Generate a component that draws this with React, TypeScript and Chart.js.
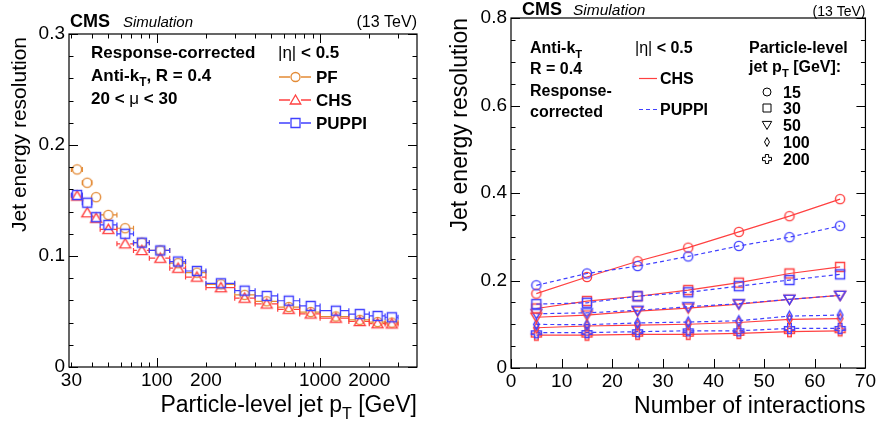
import React, { useEffect, useRef } from 'react';
import { Chart, registerables } from 'chart.js';
Chart.register(...registerables);

const FONT = '"Liberation Sans", Arial, Helvetica, sans-serif';

// ---------------- Left panel data (resolution vs particle-level pT) ----------------
const ptCenters = [32.5, 37.5, 42.5, 50.5, 64, 81, 105, 135, 176, 247, 345, 471, 643, 876, 1250, 1750, 2250, 2750];
const ptLow = [30, 35, 40, 45, 57, 72, 90, 120, 150, 200, 300, 400, 550, 750, 1000, 1500, 2000, 2500];
const ptHigh = [35, 40, 45, 57, 72, 90, 120, 150, 200, 300, 400, 550, 750, 1000, 1500, 2000, 2500, 3000];
const resPF = [0.178, 0.166, 0.153, 0.137, 0.125, 0.112, 0.105, 0.0935, 0.085, 0.0745, 0.065, 0.0592, 0.054, 0.0495, 0.0455, 0.0425, 0.0405, 0.04];
const resCHS = [0.154, 0.139, 0.134, 0.124, 0.111, 0.105, 0.098, 0.089, 0.081, 0.0715, 0.062, 0.0568, 0.052, 0.0478, 0.044, 0.041, 0.039, 0.0388];
const resPUPPI = [0.155, 0.148, 0.135, 0.128, 0.12, 0.112, 0.105, 0.095, 0.0865, 0.0754, 0.0688, 0.064, 0.0597, 0.055, 0.0507, 0.0477, 0.046, 0.0448];
const ptTickLabels = [30, 100, 200, 1000, 2000];
const ptMajorTicks = [100, 1000];
const ptMinorTicks = [30, 40, 50, 60, 70, 80, 90, 200, 300, 400, 500, 600, 700, 800, 900, 2000, 3000];
const resTicksLeft = [0, 0.1, 0.2, 0.3];
const resMinorLeft = [0.02, 0.04, 0.06, 0.08, 0.12, 0.14, 0.16, 0.18, 0.22, 0.24, 0.26, 0.28];

// ---------------- Right panel data (resolution vs number of interactions) ----------------
const nInteractions = [5, 15, 25, 35, 45, 55, 65];
const chsPt15 = [0.170, 0.208, 0.244, 0.275, 0.311, 0.347, 0.386];
const puppiPt15 = [0.189, 0.216, 0.233, 0.255, 0.279, 0.299, 0.325];
const chsPt30 = [0.136, 0.153, 0.164, 0.178, 0.195, 0.216, 0.231];
const puppiPt30 = [0.146, 0.149, 0.164, 0.173, 0.187, 0.201, 0.214];
const chsPt50 = [0.116, 0.121, 0.130, 0.137, 0.146, 0.157, 0.166];
const puppiPt50 = [0.124, 0.126, 0.132, 0.140, 0.147, 0.157, 0.166];
const chsPt100 = [0.092, 0.096, 0.098, 0.100, 0.104, 0.111, 0.113];
const puppiPt100 = [0.0996, 0.099, 0.103, 0.105, 0.108, 0.1186, 0.121];
const chsPt200 = [0.075, 0.075, 0.077, 0.077, 0.079, 0.083, 0.085];
const puppiPt200 = [0.0806, 0.081, 0.083, 0.085, 0.085, 0.0905, 0.0905];
const ptLabels = ['15', '30', '50', '100', '200'];
const nTicks = [0, 10, 20, 30, 40, 50, 60, 70];
const nMinor = [5, 15, 25, 35, 45, 55, 65];
const resTicksRight = [0, 0.2, 0.4, 0.6, 0.8];
const resMinorRight = [0.05, 0.1, 0.15, 0.25, 0.3, 0.35, 0.45, 0.5, 0.55, 0.65, 0.7, 0.75];

const C_PF = '#e38a35';
const C_CHS = '#ff4040';
const C_PUPPI = '#4040ff';

type Shape = 'circle' | 'square' | 'triup' | 'tridown' | 'diamond' | 'cross';

function pathMarker(ctx: CanvasRenderingContext2D, shape: Shape, x: number, y: number, s: number) {
  ctx.beginPath();
  switch (shape) {
    case 'circle':
      ctx.arc(x, y, s, 0, Math.PI * 2);
      break;
    case 'square':
      ctx.rect(x - s, y - s, 2 * s, 2 * s);
      break;
    case 'triup':
      ctx.moveTo(x, y - s);
      ctx.lineTo(x + s * 1.05, y + s * 0.8);
      ctx.lineTo(x - s * 1.05, y + s * 0.8);
      ctx.closePath();
      break;
    case 'tridown':
      ctx.moveTo(x, y + s);
      ctx.lineTo(x + s * 1.05, y - s * 0.8);
      ctx.lineTo(x - s * 1.05, y - s * 0.8);
      ctx.closePath();
      break;
    case 'diamond':
      ctx.moveTo(x, y - s);
      ctx.lineTo(x + s * 0.55, y);
      ctx.lineTo(x, y + s);
      ctx.lineTo(x - s * 0.55, y);
      ctx.closePath();
      break;
    case 'cross': {
      const a = s, b = s * 0.36;
      const pts = [[-b, -a], [b, -a], [b, -b], [a, -b], [a, b], [b, b], [b, a], [-b, a], [-b, b], [-a, b], [-a, -b], [-b, -b]];
      pts.forEach((p, i) => (i === 0 ? ctx.moveTo(x + p[0], y + p[1]) : ctx.lineTo(x + p[0], y + p[1])));
      ctx.closePath();
      break;
    }
  }
}

function makeMarker(shape: Shape, color: string, s: number, lw = 1.4): HTMLCanvasElement {
  const size = Math.ceil(2 * s + lw + 3);
  const c = document.createElement('canvas');
  c.width = size;
  c.height = size;
  const ctx = c.getContext('2d')!;
  ctx.strokeStyle = color;
  ctx.lineWidth = lw;
  pathMarker(ctx, shape, size / 2, size / 2, s);
  ctx.stroke();
  return c;
}

type Seg = { t: string; sub?: boolean; bold?: boolean; italic?: boolean };
function fontStr(size: number, bold?: boolean, italic?: boolean) {
  return `${italic ? 'italic ' : ''}${bold ? 'bold ' : ''}${size}px ${FONT}`;
}
function drawRich(ctx: CanvasRenderingContext2D, segs: Seg[], x: number, y: number, size: number, defBold: boolean, align: 'left' | 'right' = 'left') {
  ctx.textAlign = 'left';
  ctx.textBaseline = 'alphabetic';
  const widths = segs.map((sg) => {
    ctx.font = fontStr(sg.sub ? size * 0.7 : size, sg.bold ?? defBold, sg.italic);
    return ctx.measureText(sg.t).width;
  });
  const total = widths.reduce((a, b) => a + b, 0);
  let cx = align === 'right' ? x - total : x;
  segs.forEach((sg, i) => {
    ctx.font = fontStr(sg.sub ? size * 0.7 : size, sg.bold ?? defBold, sg.italic);
    ctx.fillText(sg.t, cx, y + (sg.sub ? size * 0.3 : 0));
    cx += widths[i];
  });
}

function drawFrameAndTicks(chart: any, xMajor: number[], xMinor: number[], yMajor: number[], yMinor: number[], topTicks: boolean) {
  const { ctx, chartArea: a, scales } = chart;
  const x = scales.x, y = scales.y;
  ctx.save();
  ctx.strokeStyle = '#000';
  ctx.lineWidth = 1.2;
  ctx.strokeRect(a.left, a.top, a.right - a.left, a.bottom - a.top);
  ctx.lineWidth = 1;
  ctx.beginPath();
  const xt = (vals: number[], len: number) => {
    vals.forEach((v) => {
      const px = Math.round(x.getPixelForValue(v)) + 0.5;
      ctx.moveTo(px, a.bottom);
      ctx.lineTo(px, a.bottom - len);
      if (topTicks) {
        ctx.moveTo(px, a.top);
        ctx.lineTo(px, a.top + len);
      }
    });
  };
  const yt = (vals: number[], len: number) => {
    vals.forEach((v) => {
      const py = Math.round(y.getPixelForValue(v)) + 0.5;
      ctx.moveTo(a.left, py);
      ctx.lineTo(a.left + len, py);
      ctx.moveTo(a.right, py);
      ctx.lineTo(a.right - len, py);
    });
  };
  xt(xMajor, 9);
  xt(xMinor, 4.5);
  yt(yMajor, 9);
  yt(yMinor, 4.5);
  ctx.stroke();
  ctx.restore();
}

const leftPlugin = {
  id: 'leftDeco',
  beforeDatasetsDraw(chart: any) {
    const { ctx, scales } = chart;
    const x = scales.x, y = scales.y;
    const series: [number[], string, number][] = [
      [resPF, C_PF, 4.5],
      [resCHS, C_CHS, 5],
      [resPUPPI, C_PUPPI, 4.5],
    ];
    ctx.save();
    ctx.lineWidth = 1.2;
    series.forEach(([vals, col, half]) => {
      ctx.strokeStyle = col;
      ctx.beginPath();
      vals.forEach((v, i) => {
        const py = y.getPixelForValue(v);
        const xl = x.getPixelForValue(ptLow[i]);
        const xh = x.getPixelForValue(ptHigh[i]);
        const xc = x.getPixelForValue(ptCenters[i]);
        if (xc - half > xl) {
          ctx.moveTo(xl, py);
          ctx.lineTo(xc - half, py);
          ctx.moveTo(xl, py - 2.5);
          ctx.lineTo(xl, py + 2.5);
        }
        if (xc + half < xh) {
          ctx.moveTo(xc + half, py);
          ctx.lineTo(xh, py);
          ctx.moveTo(xh, py - 2.5);
          ctx.lineTo(xh, py + 2.5);
        }
      });
      ctx.stroke();
    });
    ctx.restore();
  },
  afterDraw(chart: any) {
    drawFrameAndTicks(chart, ptMajorTicks, ptMinorTicks, resTicksLeft, resMinorLeft, true);
    const { ctx, chartArea: a } = chart;
    ctx.save();
    ctx.fillStyle = '#000';
    // header
    drawRich(ctx, [{ t: 'CMS', bold: true }], 70, 27, 18, true);
    drawRich(ctx, [{ t: 'Simulation', italic: true }], 123, 27, 15, false);
    drawRich(ctx, [{ t: '(13 TeV)' }], a.right, 27, 16, false, 'right');
    // texts
    drawRich(ctx, [{ t: 'Response-corrected' }], 91, 58, 17, true);
    drawRich(ctx, [{ t: 'Anti-k' }, { t: 'T', sub: true }, { t: ', R = 0.4' }], 91, 81, 17, true);
    drawRich(ctx, [{ t: '20 < ' }, { t: 'μ', bold: false }, { t: ' < 30' }], 91, 104, 17, true);
    drawRich(ctx, [{ t: '|η|', bold: false }, { t: ' < 0.5' }], 278, 58, 17, true);
    // legend
    const leg: [string, string, Shape, number][] = [
      ['PF', C_PF, 'circle', 77],
      ['CHS', C_CHS, 'triup', 100],
      ['PUPPI', C_PUPPI, 'square', 123],
    ];
    leg.forEach(([label, col, shape, yy]) => {
      ctx.strokeStyle = col;
      ctx.lineWidth = 1.3;
      ctx.beginPath();
      ctx.moveTo(279, yy);
      ctx.lineTo(290, yy);
      ctx.moveTo(301, yy);
      ctx.lineTo(311, yy);
      ctx.stroke();
      pathMarker(ctx, shape, 295.5, yy, shape === 'triup' ? 5 : 4.5);
      ctx.stroke();
      ctx.fillStyle = '#000';
      drawRich(ctx, [{ t: label }], 316, yy + 6, 17, true);
    });
    // axis titles
    drawRich(ctx, [{ t: 'Particle-level jet p' }, { t: 'T', sub: true }, { t: ' [GeV]' }], a.right, 412, 23, false, 'right');
    ctx.save();
    ctx.translate(26, a.top + 3);
    ctx.rotate(-Math.PI / 2);
    drawRich(ctx, [{ t: 'Jet energy resolution' }], 0, 0, 21, false, 'right');
    ctx.restore();
    ctx.restore();
  },
};

const rightPlugin = {
  id: 'rightDeco',
  afterDraw(chart: any) {
    drawFrameAndTicks(chart, nTicks, nMinor, resTicksRight, resMinorRight, false);
    const { ctx, chartArea: a } = chart;
    ctx.save();
    ctx.fillStyle = '#000';
    drawRich(ctx, [{ t: 'CMS', bold: true }], 82, 15, 18, true);
    drawRich(ctx, [{ t: 'Simulation', italic: true }], 133, 15, 15.5, false);
    drawRich(ctx, [{ t: '(13 TeV)' }], a.right, 16, 14, false, 'right');

    drawRich(ctx, [{ t: 'Anti-k' }, { t: 'T', sub: true }], 90, 53, 16, true);
    drawRich(ctx, [{ t: 'R = 0.4' }], 90, 74, 16, true);
    drawRich(ctx, [{ t: 'Response-' }], 90, 96, 16, true);
    drawRich(ctx, [{ t: 'corrected' }], 90, 117, 16, true);
    drawRich(ctx, [{ t: '|η|', bold: false }, { t: ' < 0.5' }], 195, 53, 16, true);

    ctx.lineWidth = 1.2;
    ctx.strokeStyle = C_CHS;
    ctx.beginPath();
    ctx.moveTo(199, 78.5);
    ctx.lineTo(217, 78.5);
    ctx.stroke();
    ctx.strokeStyle = C_PUPPI;
    ctx.setLineDash([4, 3]);
    ctx.beginPath();
    ctx.moveTo(199, 109.5);
    ctx.lineTo(217, 109.5);
    ctx.stroke();
    ctx.setLineDash([]);
    drawRich(ctx, [{ t: 'CHS' }], 220, 84, 16, true);
    drawRich(ctx, [{ t: 'PUPPI' }], 220, 115, 16, true);

    drawRich(ctx, [{ t: 'Particle-level' }], 309, 53, 16, true);
    drawRich(ctx, [{ t: 'jet p' }, { t: 'T', sub: true }, { t: ' [GeV]:' }], 309, 72, 16, true);
    const shapes: Shape[] = ['circle', 'square', 'tridown', 'diamond', 'cross'];
    const ys = [92, 108, 125, 142, 159];
    shapes.forEach((sh, i) => {
      ctx.strokeStyle = '#000';
      ctx.lineWidth = 1;
      pathMarker(ctx, sh, 327, ys[i], sh === 'circle' ? 4 : sh === 'square' ? 4 : 4.5);
      ctx.stroke();
      drawRich(ctx, [{ t: ptLabels[i] }], 343, ys[i] + 6, 16, true);
    });

    drawRich(ctx, [{ t: 'Number of interactions' }], a.right, 413, 23, false, 'right');
    ctx.save();
    ctx.translate(27, a.top);
    ctx.rotate(-Math.PI / 2);
    drawRich(ctx, [{ t: 'Jet energy resolution' }], 0, 0, 23, false, 'right');
    ctx.restore();
    ctx.restore();
  },
};

const tickFont = { family: FONT, size: 19 };

function leftConfig(): any {
  const mk = (vals: number[]) => vals.map((v, i) => ({ x: ptCenters[i], y: v }));
  return {
    type: 'scatter',
    data: {
      datasets: [
        { label: 'PUPPI', data: mk(resPUPPI), pointStyle: makeMarker('square', C_PUPPI, 4.5), pointRadius: 5 },
        { label: 'CHS', data: mk(resCHS), pointStyle: makeMarker('triup', C_CHS, 5.2), pointRadius: 5 },
        { label: 'PF', data: mk(resPF), pointStyle: makeMarker('circle', C_PF, 4.6), pointRadius: 5 },
      ],
    },
    options: {
      animation: false,
      responsive: false,
      events: [],
      layout: { padding: { top: 34, right: 23, left: 0, bottom: 0 } },
      plugins: { legend: { display: false }, tooltip: { enabled: false } },
      scales: {
        x: {
          type: 'logarithmic',
          min: 29,
          max: 3920,
          grid: { display: false, drawTicks: false },
          border: { display: false },
          afterBuildTicks: (s: any) => {
            s.ticks = ptTickLabels.map((v) => ({ value: v }));
          },
          afterFit: (s: any) => {
            s.height = 57;
          },
          ticks: { autoSkip: false, maxRotation: 0, color: '#000', font: tickFont, padding: 2, callback: (v: any) => String(v) },
        },
        y: {
          min: 0,
          max: 0.3,
          grid: { display: false, drawTicks: false },
          border: { display: false },
          afterBuildTicks: (s: any) => {
            s.ticks = resTicksLeft.map((v) => ({ value: v }));
          },
          afterFit: (s: any) => {
            s.width = 69;
          },
          ticks: { color: '#000', font: tickFont, padding: 4, callback: (v: any) => String(v) },
        },
      },
    },
    plugins: [leftPlugin],
  };
}

function rightConfig(): any {
  const groups: [number[], number[], Shape, number][] = [
    [chsPt15, puppiPt15, 'circle', 4.6],
    [chsPt30, puppiPt30, 'square', 4.5],
    [chsPt50, puppiPt50, 'tridown', 5.2],
    [chsPt100, puppiPt100, 'diamond', 5],
    [chsPt200, puppiPt200, 'cross', 5],
  ];
  const datasets: any[] = [];
  groups.forEach(([chs, puppi, shape, s]) => {
    datasets.push({
      label: 'PUPPI',
      data: puppi.map((v, i) => ({ x: nInteractions[i], y: v })),
      showLine: true,
      borderColor: C_PUPPI,
      borderWidth: 1.2,
      borderDash: [4, 3],
      pointStyle: makeMarker(shape, C_PUPPI, s),
      pointRadius: 5,
    });
    datasets.push({
      label: 'CHS',
      data: chs.map((v, i) => ({ x: nInteractions[i], y: v })),
      showLine: true,
      borderColor: C_CHS,
      borderWidth: 1.2,
      pointStyle: makeMarker(shape, C_CHS, s),
      pointRadius: 5,
    });
  });
  return {
    type: 'scatter',
    data: { datasets },
    options: {
      animation: false,
      responsive: false,
      events: [],
      layout: { padding: { top: 18, right: 11, left: 0, bottom: 0 } },
      plugins: { legend: { display: false }, tooltip: { enabled: false } },
      scales: {
        x: {
          type: 'linear',
          min: 0,
          max: 70,
          grid: { display: false, drawTicks: false },
          border: { display: false },
          afterBuildTicks: (s: any) => {
            s.ticks = nTicks.map((v) => ({ value: v }));
          },
          afterFit: (s: any) => {
            s.height = 56;
          },
          ticks: { autoSkip: false, maxRotation: 0, color: '#000', font: tickFont, padding: 2, callback: (v: any) => String(v) },
        },
        y: {
          min: 0,
          max: 0.8,
          grid: { display: false, drawTicks: false },
          border: { display: false },
          afterBuildTicks: (s: any) => {
            s.ticks = resTicksRight.map((v) => ({ value: v }));
          },
          afterFit: (s: any) => {
            s.width = 71;
          },
          ticks: { color: '#000', font: tickFont, padding: 4, callback: (v: any) => String(v) },
        },
      },
    },
    plugins: [rightPlugin],
  };
}

export default function App() {
  const leftRef = useRef<HTMLCanvasElement | null>(null);
  const rightRef = useRef<HTMLCanvasElement | null>(null);
  useEffect(() => {
    const c1 = new Chart(leftRef.current!, leftConfig());
    const c2 = new Chart(rightRef.current!, rightConfig());
    return () => {
      c1.destroy();
      c2.destroy();
    };
  }, []);
  return (
    <div style={{ position: 'absolute', left: 0, top: 0, width: 878, height: 424, background: '#fff', overflow: 'hidden' }}>
      <canvas ref={leftRef} width={440} height={424} style={{ position: 'absolute', left: 0, top: 0, width: 440, height: 424 }} />
      <canvas ref={rightRef} width={438} height={424} style={{ position: 'absolute', left: 440, top: 0, width: 438, height: 424 }} />
    </div>
  );
}
